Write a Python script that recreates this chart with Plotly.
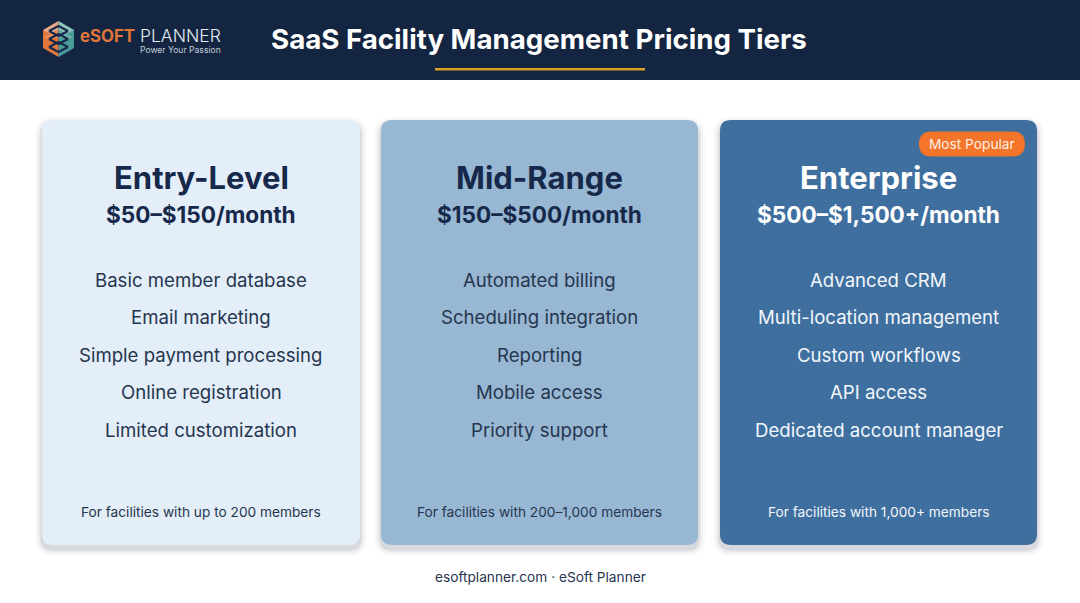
from plotly import graph_objects as go

W, H = 1080, 603

title = 'SaaS Facility Management Pricing Tiers'
footer = 'esoftplanner.com · eSoft Planner'
badge = 'Most Popular'

tiers = ['Entry-Level', 'Mid-Range', 'Enterprise']
prices = ['$50–$150/month', '$150–$500/month', '$500–$1,500+/month']
features = [
    ['Basic member database', 'Email marketing', 'Simple payment processing',
     'Online registration', 'Limited customization'],
    ['Automated billing', 'Scheduling integration', 'Reporting',
     'Mobile access', 'Priority support'],
    ['Advanced CRM', 'Multi-location management', 'Custom workflows',
     'API access', 'Dedicated account manager'],
]
audiences = ['For facilities with up to 200 members',
             'For facilities with 200–1,000 members',
             'For facilities with 1,000+ members']

card_fill = ['#e3eef9', '#98b7d3', '#3f6f9f']
head_color = ['#16294a', '#16294a', '#ffffff']
body_color = ['#26364f', '#26364f', '#f1f6fb']
card_x = [(42, 360), (381, 698), (720, 1037)]
card_top, card_bottom = 120, 545
feature_y = [279.5, 317, 354.5, 392, 429.5]


def round_rect(x0, y0, x1, y1, r):
    return (f'M{x0+r},{y0} L{x1-r},{y0} Q{x1},{y0} {x1},{y0+r} L{x1},{y1-r} '
            f'Q{x1},{y1} {x1-r},{y1} L{x0+r},{y1} Q{x0},{y1} {x0},{y1-r} '
            f'L{x0},{y0+r} Q{x0},{y0} {x0+r},{y0} Z')


def poly(points, close=True):
    return 'M' + ' L'.join(f'{x},{y}' for x, y in points) + (' Z' if close else '')


def add_text(fig, x, y, text, size, color, weight=400, anchor='center'):
    fig.add_annotation(x=x, y=y, text=text, showarrow=False, xanchor=anchor,
                       yanchor='middle',
                       font=dict(family='Inter', size=size, color=color, weight=weight))


fig = go.Figure()

# header band and title underline
fig.add_shape(type='rect', x0=0, x1=W, y0=0, y1=80, fillcolor='#132540', line_width=0)
fig.add_shape(type='rect', x0=435, x1=645, y0=68, y1=70.5, fillcolor='#d9a021', line_width=0)

# logo, a small hexagon made of facets
logo_facets = [
    ([(58.5, 21), (58.5, 30), (43, 38), (43, 30)], '#e9a98a'),
    ([(58.5, 21), (74, 30), (74, 38), (58.5, 30)], '#8fc4ba'),
    ([(43, 30), (58.5, 38), (58.5, 57), (43, 48)], '#e2773c'),
    ([(58.5, 38), (74, 30), (74, 48), (58.5, 57)], '#4a9a98'),
    ([(43, 38), (58.5, 30), (58.5, 38)], '#e98f5f'),
    ([(74, 38), (58.5, 30), (58.5, 38)], '#6fb0aa'),
]
for pts, col in logo_facets:
    fig.add_shape(type='path', path=poly(pts), fillcolor=col, line_width=0)
for y in (31, 39, 47):
    fig.add_shape(type='path', path=poly([(49, y), (58.5, y-5), (68, y)], close=False),
                  line=dict(color='#16294a', width=2))
    fig.add_shape(type='path', path=poly([(49, y), (58.5, y+5), (68, y)], close=False),
                  line=dict(color='#16294a', width=2))

# cards with a soft shadow under them
for i, (x0, x1) in enumerate(card_x):
    for grow, alpha in [(7, 0.025), (5, 0.03), (3, 0.05), (1.5, 0.08)]:
        fig.add_shape(type='path', line_width=0, fillcolor=f'rgba(30,45,70,{alpha})',
                      path=round_rect(x0-grow, card_top-grow+4, x1+grow, card_bottom+grow+4, 11+grow))
    fig.add_shape(type='path', path=round_rect(x0, card_top, x1, card_bottom, 11),
                  fillcolor=card_fill[i], line_width=0)

    cx = (x0 + x1) / 2
    add_text(fig, cx, 177.5, tiers[i], 31, head_color[i], 700)
    add_text(fig, cx, 214.5, prices[i], 22.6, head_color[i], 700)
    for y, feat in zip(feature_y, features[i]):
        add_text(fig, cx, y, feat, 18.6, body_color[i])
    add_text(fig, cx, 512, audiences[i], 13.7, body_color[i])

# badge on the enterprise card
fig.add_shape(type='path', path=round_rect(919, 131.5, 1025, 156.5, 12.5),
              fillcolor='#f47429', line_width=0)
add_text(fig, 972, 144, badge, 13.7, '#fdf0e6')

# header and footer text
add_text(fig, 77.5, 36, 'eSOFT', 16.8, '#e2773c', 700, 'left')
add_text(fig, 138, 35.5, 'PLANNER', 17.5, '#e6edf3', 300, 'left')
add_text(fig, 138, 49.5, 'Power Your Passion', 8.6, '#c4ceda', 400, 'left')
add_text(fig, 269, 39, title, 27.7, '#ffffff', 700, 'left')
add_text(fig, 540, 577, footer, 13.7, '#26364f')

fig.update_xaxes(range=[0, W], visible=False, fixedrange=True)
fig.update_yaxes(range=[H, 0], visible=False, fixedrange=True)
fig.update_layout(width=W, height=H, margin=dict(l=0, r=0, t=0, b=0),
                  paper_bgcolor='#ffffff', plot_bgcolor='#ffffff', showlegend=False)

fig.write_html('out.html', config={'displayModeBar': False},
               post_script="document.body.style.margin='0';")
